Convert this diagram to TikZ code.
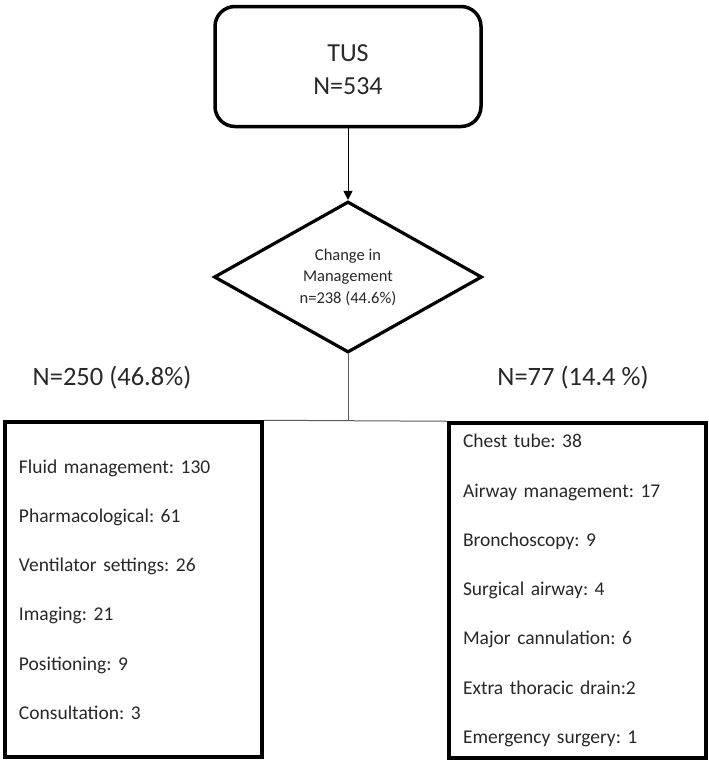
\documentclass[tikz,border=0pt]{standalone}
\usepackage{fontspec}
\setmainfont{Carlito}
\frenchspacing
\usetikzlibrary{shapes.geometric,arrows.meta}
\definecolor{txt}{RGB}{40,40,40}
\definecolor{thinline}{RGB}{90,90,90}
\tikzset{
  topbox/.style={draw=black,line width=3.5pt,rounded corners=20pt,minimum width=266pt,minimum height=120pt},
  toptext/.style={align=center,text=txt,inner sep=0pt,font=\fontsize{26}{33}\selectfont},
  decbox/.style={draw=black,line width=3.2pt,shape=diamond,aspect=1.76,minimum width=268pt,minimum height=151pt,inner sep=0pt,align=center,text=txt,font=\fontsize{16.5}{21.5}\selectfont},
  listbox/.style={draw=black,line width=3.5pt,text width=229pt,inner xsep=14pt,inner ysep=0pt,minimum height=335pt,align=left,text=txt,font=\fontsize{19.5}{49.25}\selectfont},
  countlabel/.style={text=txt,font=\fontsize{26.5}{30}\selectfont,inner sep=0pt},
  connector/.style={line width=1pt,draw=thinline}
}
\begin{document}
\begin{tikzpicture}[x=1pt,y=-1pt]
\useasboundingbox (0,0) rectangle (709,764);
\node[topbox] (tus) at (348,66.5) {};
\node[toptext] (tustext) at (348,69.5) {TUS\\N=534};
\node[decbox] (dec) at (348,277) {Change in\\Management\\n=238 (44.6\%)};
\node[countlabel] (nleft) at (112,378) {N=250 (46.8\%)};
\node[countlabel] (nright) at (573,378) {N=77 (14.4 \%)};
\node[listbox] (lbox) at (133.5,589.5) {Fluid management: 130\\Pharmacological: 61\\Ventilator settings: 26\\Imaging: 21\\Positioning: 9\\Consultation: 3};
\node[listbox] (rbox) at (577.5,590.5) {Chest tube: 38\\Airway management: 17\\Bronchoscopy: 9\\Surgical airway: 4\\Major cannulation: 6\\Extra thoracic drain:2\\Emergency surgery: 1};
\coordinate (junction) at (dec.south |- lbox.north);
\draw[line width=1pt,-{Triangle[length=9pt,width=9pt]}] (tus.south) -- (dec.north);
\draw[connector] (dec.south) -- (junction);
\draw[connector] (lbox.north east) -- (rbox.north west);
\end{tikzpicture}
\end{document}
